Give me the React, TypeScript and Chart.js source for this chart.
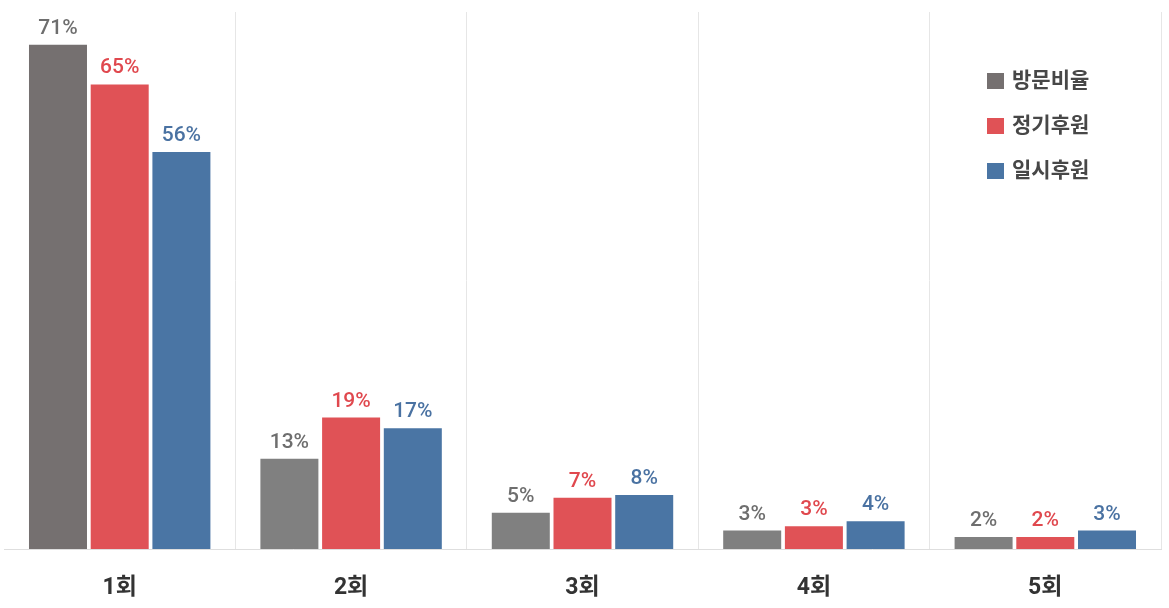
import React, { useEffect, useRef } from "react";
import Chart from "chart.js/auto";

const categories = ["1회", "2회", "3회", "4회", "5회"];
const seriesNames = ["방문비율", "정기후원", "일시후원"];
const visitRate = [71, 12.7, 5.1, 2.6, 1.7];
const regularDonation = [65.4, 18.5, 7.2, 3.2, 1.7];
const onetimeDonation = [55.9, 17.0, 7.6, 3.9, 2.6];

const barColors = [
    ["#757070", "#808080", "#808080", "#808080", "#808080"],
    "#e05256",
    "#4a75a4",
];
const labelColors = ["#6e6e6e", "#e0484e", "#4a72a2"];
const FONT = "Roboto, 'Noto Sans CJK KR', sans-serif";

// value labels above each bar
const valueLabels = {
    id: "valueLabels",
    afterDatasetsDraw(chart: any) {
        const ctx = chart.ctx;
        ctx.save();
        ctx.textAlign = "center";
        ctx.textBaseline = "alphabetic";
        chart.data.datasets.forEach((ds: any, i: number) => {
            const meta = chart.getDatasetMeta(i);
            ctx.fillStyle = labelColors[i];
            ctx.font = `500 21px ${FONT}`;
            meta.data.forEach((bar: any, j: number) => {
                ctx.fillText(`${Math.round(ds.data[j])}%`, bar.x, bar.y - 11);
            });
        });
        ctx.restore();
    },
};

// legend drawn inside the plot, top right
const boxLegend = {
    id: "boxLegend",
    afterDraw(chart: any) {
        const ctx = chart.ctx;
        ctx.save();
        ctx.textBaseline = "middle";
        ctx.font = `bold 21px ${FONT}`;
        chart.data.datasets.forEach((ds: any, i: number) => {
            const y = 81 + i * 45;
            const c = Array.isArray(ds.backgroundColor) ? ds.backgroundColor[0] : ds.backgroundColor;
            ctx.fillStyle = c;
            ctx.fillRect(987, y - 8, 17, 16);
            ctx.fillStyle = "#474747";
            ctx.fillText(ds.label, 1012, y + 1);
        });
        ctx.restore();
    },
};

const App = () => {
    const canvasRef = useRef<HTMLCanvasElement | null>(null);

    useEffect(() => {
        document.body.style.margin = "0";
        const ctx = canvasRef.current?.getContext("2d");
        if (!ctx) return;

        const chart = new Chart(ctx, {
            type: "bar",
            data: {
                labels: categories,
                datasets: [visitRate, regularDonation, onetimeDonation].map((d, i) => ({
                    label: seriesNames[i],
                    data: d,
                    backgroundColor: barColors[i],
                    categoryPercentage: 0.8,
                    barPercentage: 0.94,
                })),
            },
            options: {
                responsive: false,
                animation: false,
                layout: { padding: { left: 4, right: 8, top: 12, bottom: 0 } },
                plugins: {
                    legend: { display: false },
                    tooltip: { enabled: false },
                },
                scales: {
                    y: { display: false, min: 0, max: 75.6 },
                    x: {
                        afterFit: (scale: any) => {
                            scale.height = 59;
                        },
                        border: { display: true, color: "#dedede" },
                        grid: {
                            drawTicks: false,
                            color: (c: any) =>
                                c.index === 0 || c.index >= categories.length ? "rgba(0,0,0,0)" : "#e6e6e6",
                        },
                        ticks: {
                            padding: 25,
                            color: "#333333",
                            font: { family: FONT, size: 23, weight: "bold" },
                        },
                    },
                },
            },
            plugins: [valueLabels, boxLegend],
        });

        return () => {
            chart.destroy();
        };
    }, []);

    return (
        <div style={{ width: 1169, height: 608, background: "#fff" }}>
            <canvas ref={canvasRef} width={1169} height={608} />
        </div>
    );
};

export default App;
